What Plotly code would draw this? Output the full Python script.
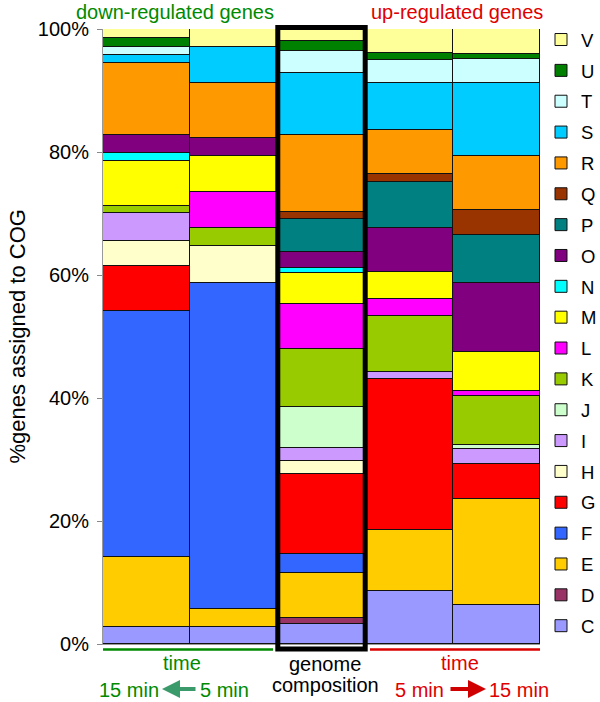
import plotly.graph_objects as go

cogs = ["C", "D", "E", "F", "G", "H", "I", "J", "K", "L",
        "M", "N", "O", "P", "Q", "R", "S", "T", "U", "V"]
colors = ["#9999FF", "#993366", "#FFCC00", "#3366FF", "#FF0000", "#FFFFCC",
          "#CC99FF", "#CCFFCC", "#99CC00", "#FF00FF", "#FFFF00", "#00FFFF",
          "#800080", "#008080", "#993300", "#FF9900", "#00CCFF", "#CCFFFF",
          "#008000", "#FFFF99"]

samples = ["down 15 min", "down 5 min", "genome", "up 5 min", "up 15 min"]

down_15 = [2.8, 0, 11.4, 40.0, 7.3, 4.1, 4.5, 0, 1.2, 0,
           7.3, 1.3, 2.9, 0, 0, 11.6, 1.4, 1.2, 1.5, 1.5]
down_5 = [2.8, 0, 2.9, 53.0, 0, 6.0, 0, 0, 2.9, 5.9,
          5.8, 0, 3.0, 0, 0, 8.9, 5.9, 0, 0, 2.9]
genome = [3.2, 1.1, 7.3, 3.0, 13.0, 2.1, 2.1, 6.7, 9.4, 7.4,
          5.0, 0.8, 2.6, 5.4, 1.1, 12.6, 10.0, 3.7, 1.5, 2.0]
up_5 = [8.6, 0, 9.9, 0, 24.6, 0, 1.2, 0, 9.1, 2.7,
        4.4, 0, 7.1, 7.6, 1.2, 7.1, 7.7, 3.8, 1.1, 3.9]
up_15 = [6.3, 0, 17.3, 0, 5.7, 0, 2.4, 0.7, 8.0, 0.8,
         6.3, 0, 11.2, 7.8, 4.0, 8.8, 11.9, 4.0, 0.7, 4.1]

columns = [down_15, down_5, genome, up_5, up_15]

y_ticks = [0, 20, 40, 60, 80, 100]
y_ticktext = ["0%", "20%", "40%", "60%", "80%", "100%"]

FONT = "Arial, Liberation Sans, sans-serif"
GREEN = "#008a00"
RED = "#e00000"

fig = go.Figure()
n = len(cogs)
for i, cog in enumerate(cogs):
    fig.add_trace(go.Bar(
        x=list(range(len(samples))),
        y=[col[i] for col in columns],
        name=cog,
        legendgroup=cog,
        legendrank=n - i,
        marker=dict(color=colors[i], line=dict(color="#111111", width=1)),
        hovertext=samples,
    ))

# pixel helpers for decorations (plot area: x 103..540, y 29..644)
def px(xp):
    return (xp - 103) / 437.0

def py(yp):
    return (644 - yp) / 615.0

shapes = [
    dict(type="rect", xref="x", yref="paper", x0=1.5, x1=2.5,
         y0=py(649), y1=py(27.5), line=dict(color="black", width=5)),
    dict(type="line", xref="paper", yref="paper", x0=px(103), x1=px(273),
         y0=py(649.5), y1=py(649.5), line=dict(color="#008a00", width=2.5)),
    dict(type="line", xref="paper", yref="paper", x0=px(370), x1=px(540),
         y0=py(649.5), y1=py(649.5), line=dict(color="#dd0000", width=2.5)),
]

def ann(text, x, y, color, size=20, xanchor="center", **kw):
    return dict(text=text, x=x, y=y, xref="paper", yref="paper",
                showarrow=False, xanchor=xanchor, yanchor="middle",
                font=dict(family=FONT, size=size, color=color), **kw)

annotations = [
    ann("down-regulated genes", px(175), py(12), GREEN, size=20),
    ann("up-regulated genes", px(457), py(12), RED, size=20),
    ann("time", px(182), py(663), GREEN),
    ann("15 min", px(161), py(690), GREEN, xanchor="right"),
    ann("5 min", px(198), py(690), GREEN, xanchor="left"),
    ann("genome", px(325), py(664), "black"),
    ann("composition", px(325), py(685), "black"),
    ann("time", px(460), py(663), RED),
    ann("5 min", px(446), py(690), RED, xanchor="right"),
    ann("15 min", px(487), py(690), RED, xanchor="left"),
    ann("%genes assigned to COG", px(17), 0.5, "black", size=22, textangle=-90),
    dict(text="", x=px(162), y=py(689), xref="paper", yref="paper",
         showarrow=True, ax=35, ay=0, arrowhead=2, arrowsize=0.9,
         arrowwidth=4, arrowcolor="#3a9a6a"),
    dict(text="", x=px(486), y=py(689), xref="paper", yref="paper",
         showarrow=True, ax=-37, ay=0, arrowhead=2, arrowsize=0.9,
         arrowwidth=4, arrowcolor="#d00000"),
]

fig.update_layout(
    width=600, height=702,
    margin=dict(l=103, r=60, t=29, b=58, autoexpand=False),
    paper_bgcolor="white", plot_bgcolor="white",
    barmode="stack", bargap=0,
    font=dict(family=FONT, size=20, color="black"),
    showlegend=True,
    legend=dict(traceorder="grouped", tracegroupgap=3.8,
                x=px(541), xanchor="left", y=py(21), yanchor="top",
                maxheight=700,
                font=dict(family=FONT, size=18.5, color="black"),
                bgcolor="rgba(0,0,0,0)", itemclick=False),
    xaxis=dict(range=[-0.5, 4.5], showticklabels=False, ticks="",
               showgrid=False, zeroline=False, showline=True,
               linecolor="#999999", linewidth=1, fixedrange=True),
    yaxis=dict(range=[0, 100], tickmode="array", tickvals=y_ticks,
               ticktext=y_ticktext, ticks="outside", ticklen=5,
               ticklabelstandoff=4,
               tickcolor="#888888", showgrid=False, zeroline=False,
               showline=True, linecolor="#999999", linewidth=1,
               tickfont=dict(family=FONT, size=20, color="black"),
               fixedrange=True),
    shapes=shapes,
    annotations=annotations,
)

fig.write_html("out.html", config={"displayModeBar": False},
               post_script="document.body.style.margin='0';document.body.style.padding='0';")
